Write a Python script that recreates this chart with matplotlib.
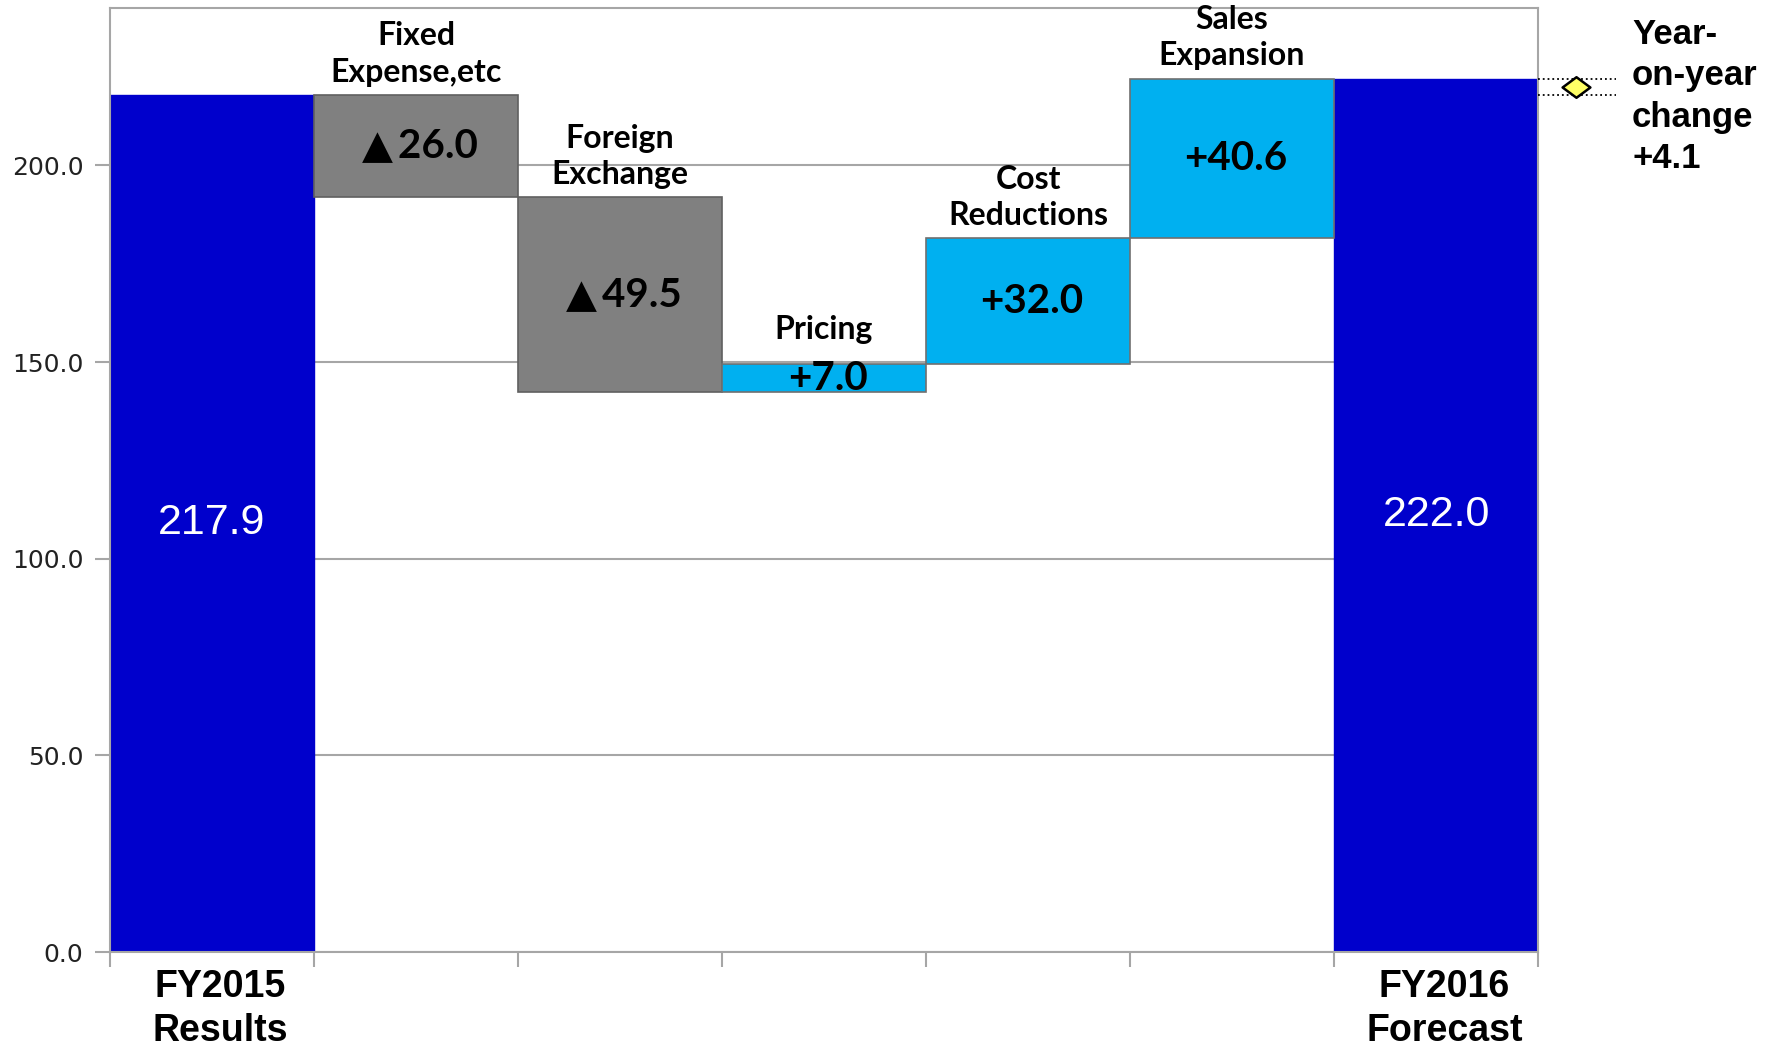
import numpy as np
import matplotlib
matplotlib.use("Agg")
import matplotlib.pyplot as plt
from matplotlib.path import Path

# data
totals = ["FY2015\nResults", "FY2016\nForecast"]
total_values = [217.9, 222.0]
steps = ["Fixed\nExpense,etc", "Foreign\nExchange", "Pricing", "Cost\nReductions", "Sales\nExpansion"]
deltas = [-26.0, -49.5, 7.0, 32.0, 40.6]
delta_labels = ["\u25b2\u200926.0", "\u25b2\u200949.5", "+7.0", "+32.0", "+40.6"]
yoy_label = "Year-\non-year\nchange\n+4.1"
yticks = [0, 50, 100, 150, 200]

BLUE = "#0000CC"
GRAY = "#808080"
CYAN = "#00B0F0"

fig = plt.figure(figsize=(17.73, 10.5), dpi=100)
ax = fig.add_axes([0.062, 0.0933, 0.8055, 0.8991])

n = len(steps) + 2
x = np.arange(n)

# running level between the two totals
levels = total_values[0] + np.cumsum(deltas)
prev = np.concatenate([[total_values[0]], levels[:-1]])
bottoms = np.minimum(prev, levels)
heights = np.abs(deltas)

ax.bar([0, n - 1], total_values, width=1.0, color=BLUE, edgecolor=BLUE, zorder=2)
cols = [GRAY if d < 0 else CYAN for d in deltas]
edges = ["#606060" if d < 0 else "#707070" for d in deltas]
ax.bar(x[1:-1], heights, bottom=bottoms, width=1.0, color=cols,
       edgecolor=edges, linewidth=1.2, zorder=2)

# values inside bars
for xi, v in zip([0, n - 1], total_values):
    ax.text(xi, v / 2, "%.1f" % v, color="white", fontsize=31,
            family="Liberation Sans", ha="center", va="center", zorder=3)
for xi, b, h, lab in zip(x[1:-1], bottoms, heights, delta_labels):
    ax.text(xi + 0.02, b + h / 2, lab, fontsize=29, fontweight="bold",
            family=["Lato", "DejaVu Sans"], ha="center", va="center", zorder=3)

# step names above each bar (pricing label sits a bit higher)
name_pad = [6, 6, 15, 6, 6]
for xi, b, h, name, p in zip(x[1:-1], bottoms, heights, steps, name_pad):
    ax.annotate(name, (xi, b + h), xytext=(0, p), textcoords="offset points",
                ha="center", va="bottom", fontsize=23, fontweight="bold",
                family="Lato", linespacing=1.3, zorder=3)

ax.set_xlim(-0.5, n - 0.5)
ax.set_ylim(0, 240)
ax.set_yticks(yticks)
ax.set_yticklabels(["%.1f" % t for t in yticks])
ax.yaxis.grid(True, color="#A6A6A6", linewidth=1.5, zorder=0)
ax.set_axisbelow(True)

# category ticks at bar boundaries, total names under the two end bars
ax.set_xticks(np.arange(n + 1) - 0.5)
ax.set_xticklabels([])
for xi, name in zip([0, n - 1], totals):
    ax.annotate(name, (xi, 0), xycoords=("data", "axes fraction"),
                xytext=(6, -12), textcoords="offset points",
                ha="center", va="top", fontsize=27, fontweight="bold",
                family="Liberation Sans", linespacing=1.3)
ax.tick_params(axis="x", length=11, color="#A6A6A6", width=1.5)
ax.tick_params(axis="y", length=11, color="#A6A6A6", width=1.5, pad=8,
               labelsize=18, labelcolor="#222222")
for s in ax.spines.values():
    s.set_color("#A6A6A6")
    s.set_linewidth(1.5)

# year-on-year change marker outside the plot
xr = n - 0.5
for v in total_values:
    ax.plot([xr, xr + 0.38], [v, v], ls=":", color="black", lw=1.3,
            clip_on=False, zorder=3)
diamond = Path([(-1.35, 0), (0, 1), (1.35, 0), (0, -1), (-1.35, 0)],
               [Path.MOVETO, Path.LINETO, Path.LINETO, Path.LINETO, Path.CLOSEPOLY])
ax.plot([xr + 0.186], [np.mean(total_values)], marker=diamond, markersize=20,
        markerfacecolor="#FFFF66", markeredgecolor="black", markeredgewidth=1.8,
        clip_on=False, zorder=4)
fig.text(1632 / 1773, 1 - 18 / 1050, yoy_label, fontsize=25, fontweight="bold",
         family="Liberation Sans", ha="left", va="top", linespacing=1.32)

fig.savefig("out.png", dpi=100)
